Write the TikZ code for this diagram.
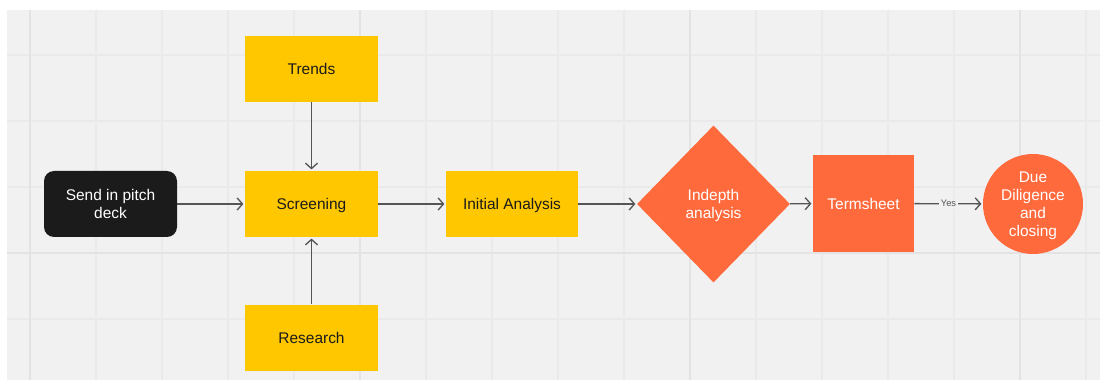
\documentclass[tikz,border=0pt]{standalone}
\usepackage{fontspec}
\setmainfont{Liberation Sans}
\usepackage{tikz}
\usetikzlibrary{arrows.meta,shapes.geometric}
\definecolor{boardgrey}{HTML}{F1F1F1}
\definecolor{gridgrey}{HTML}{EAEAEA}
\definecolor{griddark}{HTML}{E3E3E3}
\definecolor{stickyyellow}{HTML}{FFC700}
\definecolor{flamered}{HTML}{FF6A3D}
\definecolor{nearblack}{HTML}{1B1B1B}
\definecolor{linegrey}{HTML}{555555}
\tikzset{%
  flow text/.style={%
    font=\fontsize{11.6}{13.5}\selectfont,
    align=center,
    inner sep=0pt,
    text depth=0pt
  },
  one line/.style={%
    text height=8.4pt
  },
  yellow box/.style={%
    flow text,
    one line,
    rectangle,
    fill=stickyyellow,
    text=nearblack,
    minimum width=99.75pt,
    minimum height=49.5pt
  },
  dark box/.style={%
    flow text,
    rectangle,
    rounded corners=7.5pt,
    fill=nearblack,
    text=white,
    minimum width=99.75pt,
    minimum height=49.5pt
  },
  decision box/.style={%
    flow text,
    diamond,
    fill=flamered,
    text=white,
    minimum width=114.75pt,
    minimum height=117.75pt
  },
  orange box/.style={%
    flow text,
    one line,
    rectangle,
    fill=flamered,
    text=white,
    minimum width=75.75pt,
    minimum height=72.75pt
  },
  end circle/.style={%
    flow text,
    circle,
    fill=flamered,
    text=white,
    minimum size=75pt
  },
  flow directed/.style={%
    draw=linegrey,
    line width=1pt,
    shorten >=1pt,
    -{Straight Barb[length=4pt,width=9pt]}
  }
}

\begin{document}
\begin{tikzpicture}[x=0.75pt,y=-0.75pt]
  \useasboundingbox (0,0) rectangle (1100,381);
  % board and grid
  \fill[white] (0,0) rectangle (1100,381);
  \fill[boardgrey] (7,10) rectangle (1100,380);
  \foreach \gx in {30,96,...,1100}
    \draw[gridgrey, line width=0.9pt] (\gx,10) -- (\gx,380);
  \foreach \gy in {55,121,...,380}
    \draw[gridgrey, line width=0.9pt] (7,\gy) -- (1100,\gy);
  \foreach \gx in {30,360,690,1020}
    \draw[griddark, line width=1.5pt] (\gx,10) -- (\gx,380);
  \draw[griddark, line width=1.5pt] (7,253) -- (1100,253);

  \node [dark box] (pitch) at (110.5, 204) {Send in pitch\\deck};
  \node [yellow box] (trends) at (311.5, 69) {Trends};
  \node [yellow box] (screening) at (311.5, 204) {Screening};
  \node [yellow box] (research) at (311.5, 337.5) {Research};
  \node [yellow box, minimum width=99pt] (initial) at (512, 204) {Initial Analysis};
  \node [decision box] (indepth) at (713.5, 204) {Indepth\\analysis};
  \node [orange box] (termsheet) at (863.5, 203.5) {Termsheet};
  \node [end circle] (closing) at (1033, 204) {Due\\Diligence\\and\\closing};

  \draw [flow directed] (pitch) -- (screening);
  \draw [flow directed] (trends) -- (screening);
  \draw [flow directed] (research) -- (screening);
  \draw [flow directed] (screening) -- (initial);
  \draw [flow directed] (initial) -- (indepth);
  \draw [flow directed] (indepth) -- (termsheet);
  \draw [flow directed] (termsheet) -- node [fill=boardgrey, text=linegrey, inner sep=1.2pt,
    font=\fontsize{7}{8}\selectfont] (yes) {Yes} (closing);
\end{tikzpicture}
\end{document}
